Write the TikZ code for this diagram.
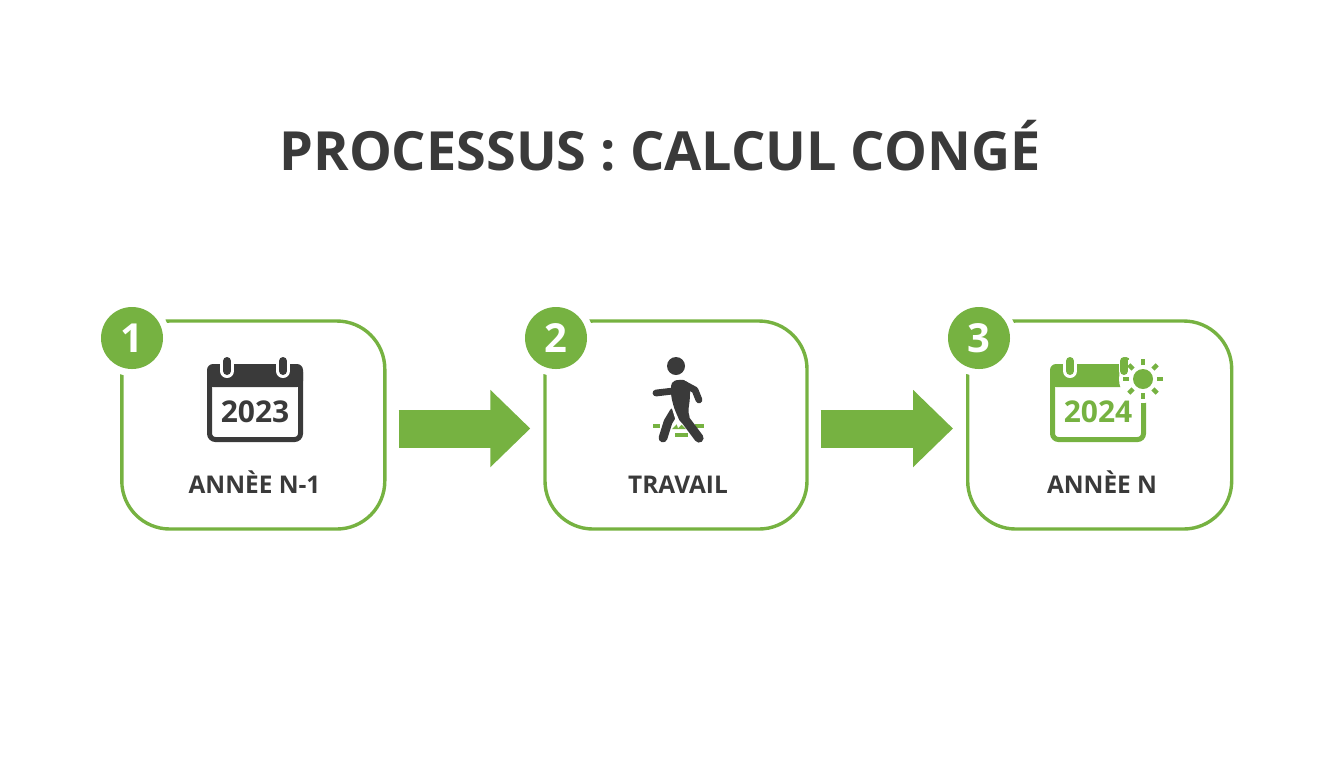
\documentclass[tikz,border=0pt]{standalone}
\usepackage{fontspec}
\setmainfont{Open Sans}
\usetikzlibrary{arrows.meta}
\definecolor{leaf}{HTML}{76B241}
\definecolor{ink}{HTML}{3A3A3A}
\tikzstyle{stepbox}=[draw=leaf,line width=1.7pt,rounded corners=24pt,minimum height=104pt,inner sep=0pt]
\tikzstyle{badge}=[circle,fill=leaf,text=white,font=\bfseries\fontsize{20}{20}\selectfont,minimum size=31pt,inner sep=0pt,preaction={draw=white,line width=7pt}]
\tikzstyle{steplabel}=[anchor=base,text=ink,font=\bfseries\fontsize{12.2}{12.2}\selectfont,inner sep=0pt]
\tikzstyle{yearlabel}=[anchor=base,font=\bfseries\fontsize{15}{15}\selectfont,inner sep=0pt]
\tikzstyle{flow}=[draw=leaf,line width=19pt,-{Triangle[length=20pt,width=37.5pt]},shorten <=6pt,shorten >=6.5pt]
\tikzstyle{limb}=[draw=ink,line cap=round,line join=round]
\newcommand{\calicon}[3]{% x, colour, year
    \begin{scope}[shift={(#1,364)}]
        \draw[#2,line width=2.5pt,rounded corners=3pt] (2.5,2.5) rectangle (93.5,75.5);
        \fill[#2,rounded corners=3pt] (0,23) -- (0,0) -- (96,0) -- (96,23) -- cycle;
        \foreach \ringx in {20,76} {
            \draw[white,line width=7pt,line cap=round] (\ringx,-10) -- (\ringx,7);
            \draw[#2,line width=4pt,line cap=round] (\ringx,-3) -- (\ringx,7);
        }
        \node[yearlabel,text=#2] (year#3) at (48,58) {#3};
    \end{scope}
}

\begin{document}
\begin{tikzpicture}[x=0.5pt,y=-0.5pt]
    \useasboundingbox (0,0) rectangle (1344,768);
    \node[anchor=base,text=ink,font=\bfseries\fontsize{27}{27}\selectfont,inner sep=0pt] (title) at (660,170) {PROCESSUS : CALCUL CONGÉ};
    % First we draw the boxes and their numbers
    \foreach \pos/\wid/\name/\num/\cx in {{(253.3,425)/131.5pt/box1/1/132}, {(676,425)/131pt/box2/2/556}, {(1099.7,425)/132pt/box3/3/979}} {
        \node[stepbox,minimum width=\wid] (\name) at \pos {};
        \node[badge] (badge\num) at (\cx,338) {\num};
    }
    % Connect boxes with arrows
    \foreach \source/\dest in {box1/box2, box2/box3}
        \draw[flow] ([yshift=-1.75pt]\source.east) -- ([yshift=-1.75pt]\dest.west);
    % Labels
    \node[steplabel] (label1) at (254.5,493) {ANNÈE N-1};
    \node[steplabel] (label2) at (678,493) {TRAVAIL};
    \node[steplabel] (label3) at (1102,493) {ANNÈE N};
    % Calendars
    \calicon{207}{ink}{2023}
    \calicon{1050}{leaf}{2024}
    % Sun on the last calendar
    \fill[white] (1143,379) circle (12pt);
    \draw[leaf,line width=4pt,line cap=round] (1124,361) -- (1124,371);
    \node[circle,fill=leaf,minimum size=10pt,inner sep=0pt] (sun) at (1143,379) {};
    \foreach \ang in {-135,-90,...,180}
        \draw[leaf,line width=2.2pt] ([shift={(\ang:14)}]sun.center) -- ([shift={(\ang:20)}]sun.center);
    % Walking figure
    \foreach \a/\b/\c/\d in {653/426/660/426, 695/426/704/426, 675/435/688/435}
        \draw[leaf,line width=2pt] (\a,\b) -- (\c,\d);
    \fill[leaf] (672,429) -- (679,422) -- (686,429) -- cycle;
    \node[circle,fill=ink,minimum size=9pt,inner sep=0pt] (head) at (676,366) {};
    \draw[limb,line width=3.4pt] (656,393) -- (673,391);
    \draw[limb,line width=3.4pt] (682,383) -- (695,390) -- (699,400);
    \draw[limb,line width=4.4pt] (674,412) -- (668,422) -- (663,438);
    \fill[white] (670,402) -- (678,400) -- (686,420) -- (678,428) -- cycle;
    \fill[ink,rounded corners=2pt] (671,382) -- (680,379) -- (690,383) -- (690,398) -- (688,413) -- (691,420) -- (681,424) -- (674,408) -- (671,396) -- cycle;
    \draw[limb,line width=4.6pt] (684,418) -- (699,438);
\end{tikzpicture}
\end{document}
